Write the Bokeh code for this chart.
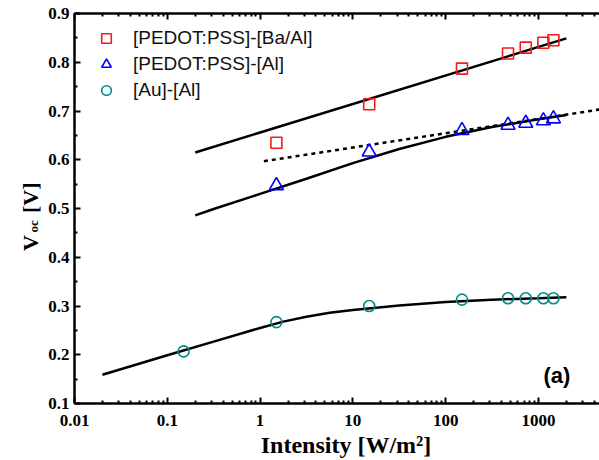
import math
from bokeh.plotting import figure
from bokeh.models import (LogAxis, FixedTicker, CustomJSTickFormatter, Label, Range1d)
from bokeh.embed import file_html
from bokeh.resources import INLINE

# ---- data ----
intensity_ba = [1.5, 15, 150, 470, 730, 1130, 1450]
voc_ba = [0.635, 0.714, 0.787, 0.818, 0.830, 0.840, 0.845]
intensity_al = [1.5, 15, 150, 470, 730, 1130, 1450]
voc_al = [0.547, 0.616, 0.660, 0.671, 0.675, 0.680, 0.684]
intensity_au = [0.15, 1.5, 15, 150, 470, 730, 1130, 1450]
voc_au = [0.207, 0.267, 0.300, 0.313, 0.316, 0.316, 0.316, 0.316]

fit_ba_x = [0.2, 2000]
fit_ba_y = [0.615, 0.849]
fit_al_x = [0.2, 0.316, 1, 3.16, 10, 31.6, 100, 316, 1000, 2000]
fit_al_y = [0.486, 0.499, 0.530, 0.561, 0.593, 0.622, 0.647, 0.667, 0.683, 0.692]
fit_au_x = [0.02, 0.1, 0.316, 1, 1.78, 3.16, 5.62, 10, 31.6, 100, 316, 1000, 2000]
fit_au_y = [0.159, 0.199, 0.227, 0.255, 0.268, 0.278, 0.286, 0.292, 0.301, 0.308, 0.313, 0.316, 0.318]
ref_x = [1.1, 4550]
ref_y = [0.597, 0.703]

x_ticks = [0.01, 0.1, 1, 10, 100, 1000]
x_minor = [m * d for d in [0.01, 0.1, 1, 10, 100, 1000] for m in range(2, 10)]
y_ticks = [0.1, 0.2, 0.3, 0.4, 0.5, 0.6, 0.7, 0.8, 0.9]
y_minor = [0.15, 0.25, 0.35, 0.45, 0.55, 0.65, 0.75, 0.85]

labels = ["[PEDOT:PSS]-[Ba/Al]", "[PEDOT:PSS]-[Al]", "[Au]-[Al]"]

SERIF = "Liberation Serif"
SANS = "Liberation Sans"
NB = "\u00a0"

p = figure(width=599, height=460, x_axis_type="log",
           x_range=Range1d(0.01, 4550), y_range=Range1d(0.1, 0.9),
           output_backend="svg", toolbar_location=None,
           min_border_left=74, min_border_right=0,
           min_border_top=13, min_border_bottom=57)
p.outline_line_color = None
p.xgrid.visible = False
p.ygrid.visible = False

xt = FixedTicker(ticks=x_ticks, minor_ticks=x_minor)
yt = FixedTicker(ticks=y_ticks, minor_ticks=y_minor)

def style(ax):
    ax.axis_line_width = 2.5
    ax.axis_line_color = "black"
    ax.major_tick_in = 6
    ax.major_tick_out = 0
    ax.minor_tick_in = 3
    ax.minor_tick_out = 0
    ax.major_tick_line_width = 2
    ax.minor_tick_line_width = 2
    ax.major_label_text_font = SERIF
    ax.major_label_text_font_style = "bold"
    ax.major_label_text_font_size = "17px"
    ax.major_label_text_color = "black"
    ax.axis_label_text_font = SERIF
    ax.axis_label_text_font_style = "bold"
    ax.axis_label_text_color = "black"

xa = p.xaxis[0]
xa.ticker = xt
xa.formatter = CustomJSTickFormatter(code="return tick.toString()")
style(xa)
xa.major_label_standoff = 11
xa.axis_label = NB * 3 + "Intensity [W/m\u00b2]"
xa.axis_label_text_font_size = "24px"
xa.axis_label_standoff = 3

ya = p.yaxis[0]
ya.ticker = yt
ya.formatter = CustomJSTickFormatter(code="return tick.toFixed(1)")
style(ya)
ya.major_label_standoff = 5
ya.axis_label = "V" + NB * 4 + "[V]" + NB * 3
ya.axis_label_text_font_size = "22px"
ya.axis_label_standoff = 2

top = LogAxis(ticker=xt, formatter=CustomJSTickFormatter(code="return ''"))
style(top)
top.major_label_text_font_size = "0px"
top.major_label_standoff = 0
p.add_layout(top, "above")

# fit lines
p.line(fit_ba_x, fit_ba_y, line_color="black", line_width=2.5)
p.line(fit_al_x, fit_al_y, line_color="black", line_width=2.5)
p.line(fit_au_x, fit_au_y, line_color="black", line_width=2.5)
p.line(ref_x, ref_y, line_color="black", line_width=2.5, line_dash="4 4")

# data markers
p.scatter(intensity_ba, voc_ba, marker="square", size=11, fill_color=None,
          line_color="#ee1c1c", line_width=1.6, legend_label=labels[0])
p.scatter(intensity_al, voc_al, marker="triangle", size=14, fill_color=None,
          line_color="#0000ff", line_width=1.6, legend_label=labels[1])
p.scatter(intensity_au, voc_au, marker="circle", size=11, fill_color=None,
          line_color="#008b8b", line_width=1.6, legend_label=labels[2])

lg = p.legend[0]
lg.location = "top_left"
lg.margin = 13
lg.padding = 12
lg.glyph_width = 38
lg.glyph_height = 24
lg.label_height = 24
lg.spacing = 2
lg.label_standoff = 8
lg.border_line_color = None
lg.background_fill_alpha = 0
lg.label_text_font = SANS
lg.label_text_font_size = "19px"
lg.label_text_color = "#111111"

# panel tag
p.add_layout(Label(x=469, y=28, x_units="screen", y_units="screen", text="(a)",
                   text_font=SANS, text_font_style="bold", text_font_size="22px",
                   text_color="black", text_baseline="alphabetic", text_align="left"))

# subscript of the y title, placed in the left side panel
p.add_layout(Label(x=33, y=171, x_units="screen", y_units="screen", text="oc",
                   angle=math.pi / 2, text_font=SERIF, text_font_style="bold",
                   text_font_size="13px", text_color="black",
                   text_align="left", text_baseline="alphabetic"), "left")

open("out.html", "w").write(file_html(p, INLINE))
